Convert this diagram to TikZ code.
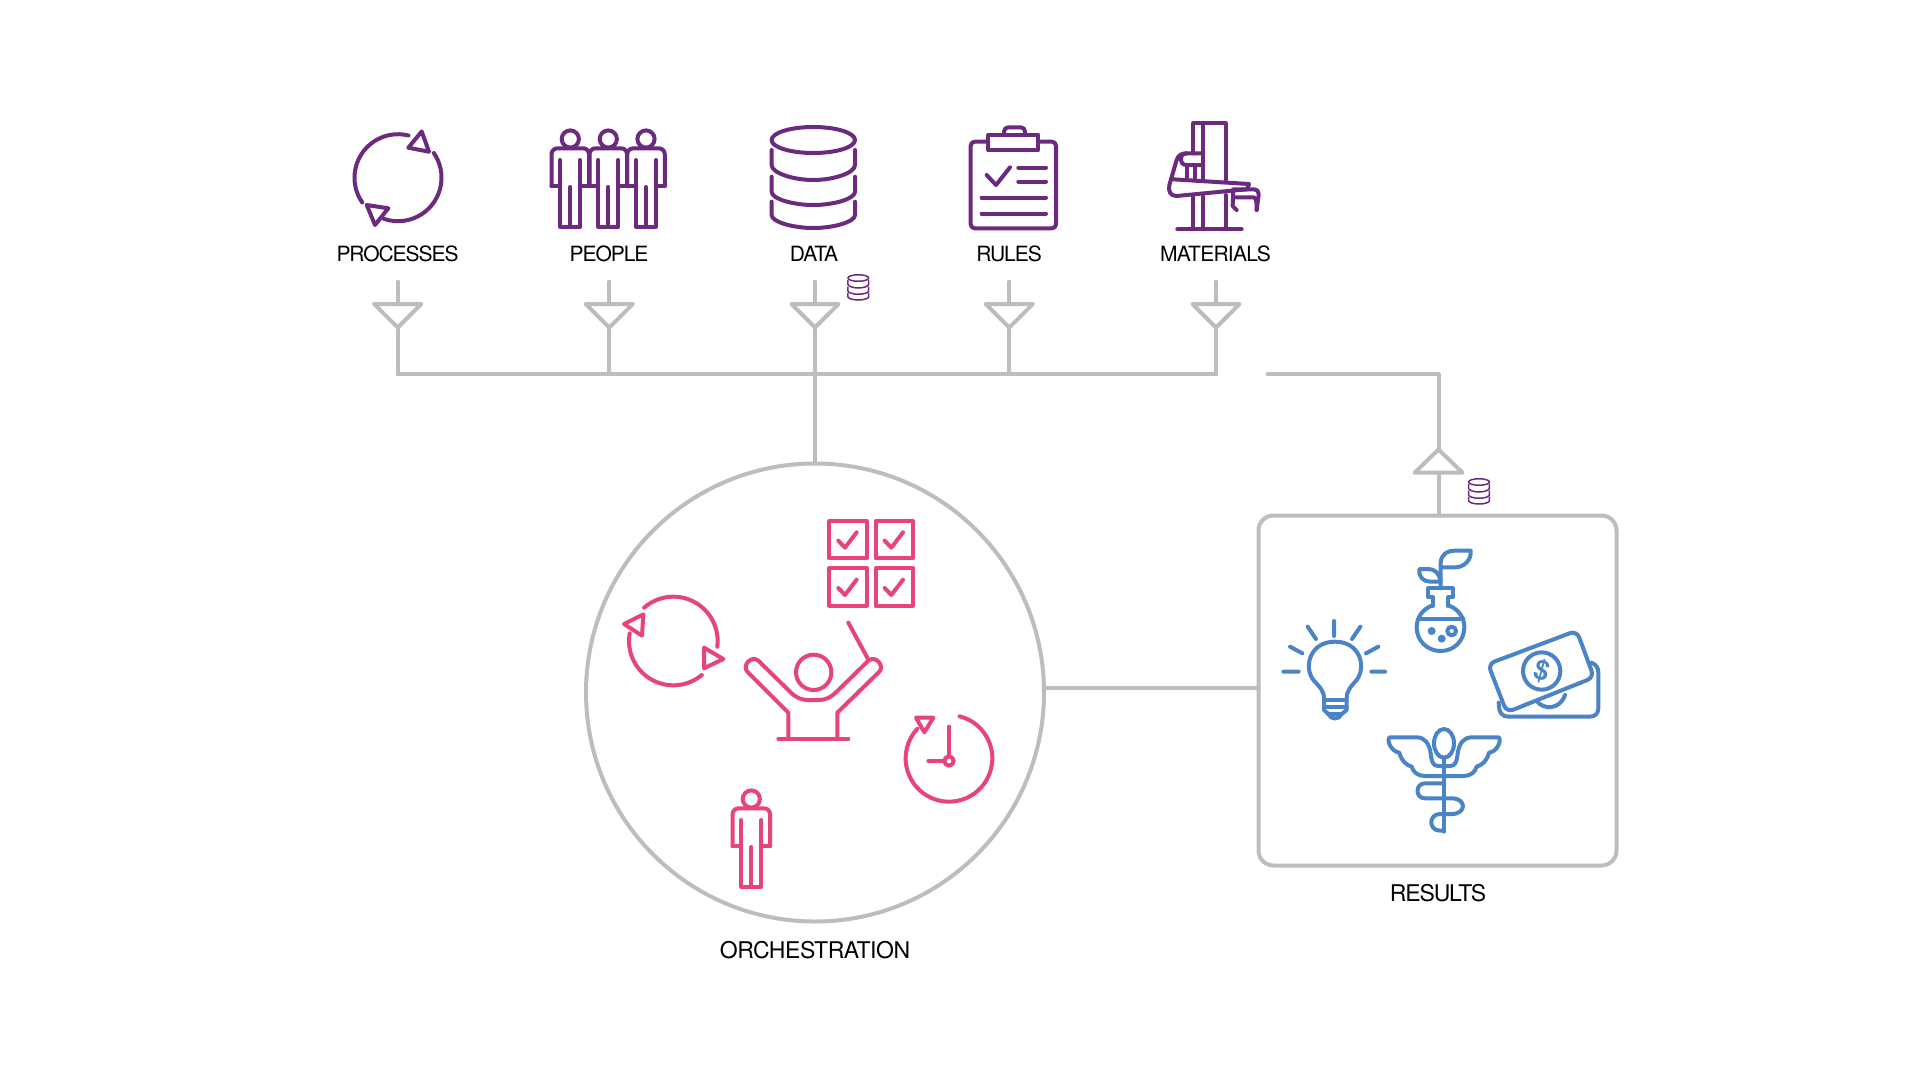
\documentclass[tikz,border=0pt]{standalone}
\usepackage{fontspec}
\setmainfont{TeX Gyre Heros}
\newfontfamily\lab[LetterSpace=-5]{TeX Gyre Heros}
\newfontfamily\labb[LetterSpace=-2]{TeX Gyre Heros}
\newfontfamily\labc[LetterSpace=-3.5]{TeX Gyre Heros}
\definecolor{purp}{HTML}{6B2A7D}
\definecolor{pink}{HTML}{E6437F}
\definecolor{blu}{HTML}{4A84C7}
\definecolor{gry}{HTML}{BDBDBD}
\tikzset{
  lbl/.style={font=\lab\fontsize{21}{24}\selectfont,text=black,inner sep=0pt},
  wire/.style={draw=gry,line width=4pt,line cap=round,line join=round},
  ic/.style={line width=#1,line cap=round,line join=round},
  ic/.default=4pt,
  zoomB/.style={shift={(760,100)},scale=1/3},
  zoomC/.style={shift={(600,500)},scale=1/3},
  zoomD/.style={shift={(1260,520)},scale=1/3},
  pics/person/.style={code={
    \draw (0,0) circle[radius=8.6pt];
    \draw[rounded corners=6pt] (-18.8,47) -- (-18.8,9.3) -- (18.8,9.3) -- (18.8,47);
    \draw (-18.8,47) -- (-10,47) (18.8,47) -- (10,47);
    \draw (-10,21) -- (-10,87.7) -- (10,87.7) -- (10,21);
    \draw (0,48) -- (0,87.7);
  }},
  pics/dbicon/.style={code={
    \draw (0,0) ellipse[x radius=41.7pt,y radius=13pt];
    \draw (-41.7,10) -- (-41.7,25) .. controls (-41.7,33) and (-20,40) .. (0,40) .. controls (20,40) and (41.7,33) .. (41.7,25) -- (41.7,10);
    \draw (-41.7,36.7) -- (-41.7,51.7) .. controls (-41.7,59) and (-20,65) .. (0,65) .. controls (20,65) and (41.7,59) .. (41.7,51.7) -- (41.7,36.7);
    \draw (-41.7,61.7) -- (-41.7,75) .. controls (-41.7,82) and (-20,88) .. (0,88) .. controls (20,88) and (41.7,82) .. (41.7,75) -- (41.7,61.7);
  }},
  pics/tick/.style={code={
    \draw (0,0) rectangle (112,112);
    \draw (27,59) -- (47,80) -- (82,34);
  }},
}
\begin{document}
\begin{tikzpicture}[x=1pt,y=-1pt]
\useasboundingbox[fill=white] (0,0) rectangle (1920,1080);

% main shapes
\node[circle,draw=gry,line width=4pt,minimum size=458pt,inner sep=0pt] (orch) at (815,692.5) {};
\node[rectangle,rounded corners=15pt,draw=gry,line width=4pt,minimum width=358pt,minimum height=350pt,inner sep=0pt] (res) at (1437.5,690.5) {};

% labels
\node[lbl] (l1) at (397.5,254) {PROCESSES};
\node[lbl] (l2) at (609,254) {PEOPLE};
\node[lbl] (l3) at (814,254) {DATA};
\node[lbl] (l4) at (1009,254) {RULES};
\node[lbl,font=\labc\fontsize{21}{24}\selectfont] (l5) at (1215.5,254) {MATERIALS};
\node[lbl,font=\labb\fontsize{23}{26}\selectfont] (l6) at (815,950.5) {ORCHESTRATION};
\node[lbl,font=\lab\fontsize{23}{26}\selectfont] (l7) at (1438,893) {RESULTS};

% connector points
\foreach \n/\x in {a/397.7,b/609.3,c/815,d/1009.3,e/1216}{
  \coordinate (\n0) at (\x,281.7);
  \coordinate (\n1) at (\x,304);
  \coordinate (\n2) at (\x,327.5);
  \coordinate (\n3) at (\x,374.3);
  \draw[wire] (\n0) -- (\n1);
  \draw[wire] (\n1) ++(-23.6,0) -- ++(47.2,0) -- (\n2) -- cycle;
  \draw[wire] (\n2) -- (\n3);
}
\draw[wire] (a3) -- (e3);
\draw[wire] (c3) -- (orch.north);
\coordinate (f0) at (1267.5,374.3);
\coordinate (f1) at (1438.5,374.3);
\coordinate (f2) at (1438.5,449.5);
\coordinate (f3) at (1438.5,472.7);
\draw[wire] (f0) -- (f1) -- (f2);
\draw[wire] (f2) -- ++(24,23.2) -- ++(-48,0) -- cycle;
\draw[wire] (f3) -- (f3 |- res.north);
\draw[wire] (orch.1) -- (orch.1 -| res.west);

% PURPLE
\begin{scope}[color=purp,ic]
  % cycle
  \draw (398,177.7) ++(34.6:43.5pt) arc[start angle=34.6,end angle=-109,radius=43.5pt];
  \draw (398,177.7) ++(214.7:43.5pt) arc[start angle=214.7,end angle=76,radius=43.5pt];
  \draw (421.7,131.5) -- (429,151.7) -- (408.3,147.7) -- cycle;
  \draw (366.7,205) -- (388.3,208.3) -- (375,225) -- cycle;
  % people
  \pic at (570.3,139) {person};
  \pic at (608.3,139) {person};
  \pic at (646,139) {person};
  % data
  \pic at (813.3,140) {dbicon};
  \pic[line width=1.5pt,scale=.25] at (858.3,278) {dbicon};
  \pic[line width=1.5pt,scale=.25] at (1479,482) {dbicon};
  % clipboard
  \begin{scope}[zoomB]
    \draw[rounded corners=4pt] (685,125) -- (632,125) -- (632,385) -- (888,385) -- (888,125) -- (835,125);
    \draw (685,105) rectangle (835,150);
    \draw (732,105) -- (732,95) .. controls (732,87) and (738,82) .. (745,82) -- (782,82) .. controls (790,82) and (795,87) .. (795,95) -- (795,105);
    \draw (680,225) -- (708,255) -- (750,202);
    \draw (775,203) -- (858,203) (775,245) -- (858,245) (665,293) -- (858,293) (665,341) -- (858,341);
    % robot
    \draw (1300,160) -- (1300,70) -- (1397,70) -- (1397,245);
    \draw (1330,70) -- (1330,240);
    \draw (1397,285) -- (1397,385) (1330,290) -- (1330,385) (1300,285) -- (1300,385);
    \draw (1252,388) -- (1445,388);
    \draw (1330,160) -- (1280,160) .. controls (1265,160) and (1255,165) .. (1250,180) -- (1228,255) .. controls (1224,275) and (1232,288) .. (1250,288) -- (1415,272) -- (1462,268) -- (1467,252) -- (1240,238);
    \draw (1330,195) -- (1280,195) .. controls (1268,195) and (1262,187) .. (1262,178) .. controls (1262,168) and (1270,160) .. (1280,160);
    \draw (1280,195) -- (1280,240) (1305,195) -- (1305,240);
    \draw (1420,268) -- (1480,268) .. controls (1492,268) and (1496,275) .. (1496,285) -- (1490,330);
    \draw (1420,292) -- (1480,292) .. controls (1488,292) and (1490,300) .. (1490,330);
    \draw (1420,270) -- (1418,318) -- (1430,330);
  \end{scope}
\end{scope}

% PINK
\begin{scope}[color=pink,ic]
  \begin{scope}[zoomC]
    \pic[scale=1/3] at (688,63) {tick};
    \pic[scale=1/3] at (827,63) {tick};
    \pic[scale=1/3] at (688,205) {tick};
    \pic[scale=1/3] at (827,205) {tick};
    \draw (220,423) ++(131.2:133pt) arc[start angle=131.2,end angle=-7.5,radius=133pt];
    \draw (220,423) ++(-50:133pt) arc[start angle=-50,end angle=-190,radius=133pt];
    \draw (130,343) -- (72,372) -- (126,407) -- cycle;
    \draw (312,443) -- (370,477) -- (312,505) -- cycle;
    % conductor
    \draw (641,517) circle[radius=53pt];
    \draw (565,710) -- (565,638) -- (442,515) .. controls (425,495) and (455,465) .. (475,482) -- (570,575) .. controls (590,595) and (605,600) .. (625,600) -- (655,600) .. controls (680,600) and (695,590) .. (710,575) -- (805,482) .. controls (825,465) and (855,495) .. (838,515) -- (712,638) -- (712,710);
    \draw (535,716) -- (745,716);
    \draw (745,368) -- (803,475);
    % clock
    \draw (1047,775) ++(76:130pt) arc[start angle=76,end angle=-223,radius=130pt];
    \draw (948,653) -- (1000,653) -- (973,697) -- cycle;
    \draw (1047,680) -- (1047,765);
    \draw (1047,783) circle[radius=14pt];
    \draw (985,783) -- (1030,783);
  \end{scope}
  \pic at (751.3,799) {person};
\end{scope}

% BLUE
\begin{scope}[color=blu,ic,zoomD]
  % bulb
  \draw (160,480) .. controls (130,440) and (150,365) .. (225,365) .. controls (300,365) and (320,440) .. (290,480) .. controls (275,497) and (260,510) .. (260,535) -- (260,570) -- (245,582) .. controls (238,600) and (212,600) .. (205,582) -- (192,570) -- (192,535) .. controls (192,510) and (175,497) .. (160,480);
  \draw (192,540) -- (260,540) (192,562) -- (260,562) (205,582) -- (245,582);
  \draw (222,303) -- (222,348) (143,320) -- (168,357) (301,320) -- (276,357) (90,380) -- (127,400) (355,380) -- (318,400) (70,455) -- (116,455) (334,455) -- (375,455);
  % flask
  \draw (518,258) -- (518,232) -- (505,232) -- (505,205) -- (578,205) -- (578,232) -- (565,232) -- (565,258);
  \draw (518,256) .. controls (485,268) and (470,295) .. (470,322) .. controls (470,362) and (502,393) .. (542,393) .. controls (582,393) and (613,362) .. (613,322) .. controls (613,295) and (598,268) .. (565,256);
  \draw (475,296) -- (610,296);
  \fill (515,333) circle[radius=12pt] (545,356) circle[radius=12pt];
  \draw (575,333) circle[radius=13pt];
  \draw (542,205) -- (542,130) .. controls (542,105) and (560,92) .. (585,92) -- (632,92) .. controls (635,120) and (612,142) .. (585,142) -- (542,142);
  \draw (542,185) .. controls (538,160) and (525,147) .. (505,147) -- (478,147) .. controls (475,170) and (490,185) .. (510,185) -- (542,185);
  % money
  \draw[rounded corners=7pt] (684,432) -- (950,332) -- (1002,472) -- (740,577) -- cycle;
  \draw (845,453) circle[radius=56pt];
  \node[text=blu,inner sep=0pt,rotate=-15,font=\fontsize{27}{27}\selectfont\bfseries] (dollar) at (845,453) {\$};
  \draw (995,428) .. controls (1010,435) and (1015,445) .. (1015,458) -- (1015,565) .. controls (1015,580) and (1005,590) .. (990,590) -- (745,590) .. controls (728,590) and (716,580) .. (716,548);
  \draw (830,543) .. controls (850,570) and (900,570) .. (915,525);
  % caduceus
  \draw (552,713) -- (552,935);
  \draw (552,670) ellipse[x radius=30pt,y radius=43pt];
  \draw (552,738) -- (535,738) .. controls (518,738) and (515,725) .. (512,700) .. controls (508,672) and (495,652) .. (470,652) -- (388,652) .. controls (380,665) and (395,695) .. (418,698) .. controls (425,725) and (440,735) .. (455,740) .. controls (460,758) and (475,768) .. (495,768) -- (610,768) .. controls (630,768) and (645,758) .. (650,740) .. controls (665,735) and (680,725) .. (687,698) .. controls (710,695) and (725,665) .. (717,652) -- (635,652) .. controls (610,652) and (597,672) .. (593,700) .. controls (590,725) and (587,738) .. (570,738) -- (552,738);
  \draw (552,790) -- (495,790) .. controls (465,790) and (465,835) .. (495,835) -- (575,835) .. controls (620,835) and (620,882) .. (575,882) -- (540,882) .. controls (505,882) and (505,932) .. (540,932) -- (552,932);
\end{scope}
\end{tikzpicture}
\end{document}
